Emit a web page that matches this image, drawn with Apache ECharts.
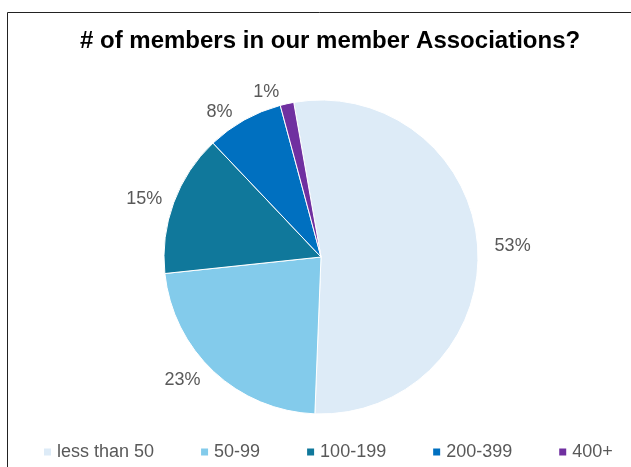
<!DOCTYPE html>
<html>
<head>
<meta charset="utf-8">
<script src="https://cdn.jsdelivr.net/npm/echarts@6/dist/echarts.min.js"></script>
<style>
  html, body { margin: 0; padding: 0; background: #fff; }
  #chart { width: 631px; height: 467px; }
</style>
</head>
<body>
<div id="chart"></div>
<script>
// categories and shares
const categories = ['less than 50', '50-99', '100-199', '200-399', '400+']
const shares = [53.4, 22.7, 14.6, 7.9, 1.4]
const colors = ['#DDEBF7', '#83CBEB', '#10789B', '#0070C0', '#7030A0']

const chart = echarts.init(document.getElementById('chart'))
chart.setOption({
  animation: false,
  color: colors,
  title: {
    text: '# of members in our member Associations?',
    left: 75,
    top: 24,
    textStyle: {
      fontFamily: 'Liberation Sans, Arial',
      fontSize: 24,
      fontWeight: 'bold',
      color: '#000'
    }
  },
  legend: {
    left: 37,
    top: 438,
    itemWidth: 9,
    itemHeight: 9,
    itemGap: 45,
    icon: 'rect',
    textStyle: {
      fontFamily: 'Liberation Sans, Arial',
      fontSize: 18,
      color: '#595959'
    },
    data: categories
  },
  // chart frame
  graphic: [{
    type: 'rect',
    shape: { x: 7.5, y: 12.5, width: 640, height: 470 },
    style: { fill: 'none', stroke: '#222', lineWidth: 1 },
    silent: true
  }],
  series: [{
    type: 'pie',
    center: [321, 257],
    radius: 157,
    startAngle: 100,
    clockwise: true,
    percentPrecision: 0,
    itemStyle: { borderColor: '#fff', borderWidth: 1 },
    label: {
      show: true,
      position: 'outside',
      formatter: '{d}%',
      fontFamily: 'Liberation Sans, Arial',
      fontSize: 18,
      color: '#595959'
    },
    labelLine: { show: false, length: 12, length2: 0 },
    data: categories.map((name, i) => ({ name: name, value: shares[i] }))
  }]
})
</script>
</body>
</html>
